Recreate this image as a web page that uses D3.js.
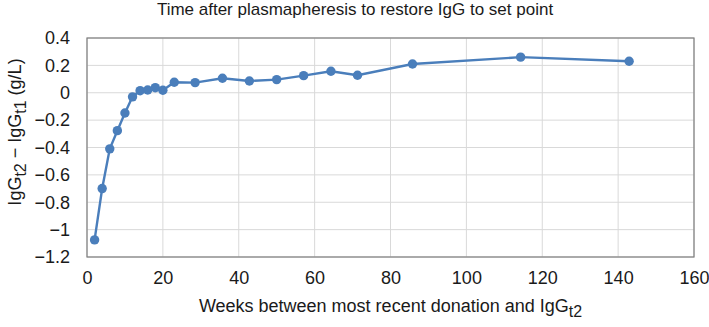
<!DOCTYPE html>
<html>
<head>
<meta charset="utf-8">
<script src="https://cdn.jsdelivr.net/npm/d3@7"></script>
<style>
  body { margin: 0; background: #fff; }
  text { font-family: "Liberation Sans", Arial, sans-serif; fill: #1a1a1a; }
</style>
</head>
<body>
<svg id="chart"></svg>
<script>
// Data
const weeks = [2, 4, 6, 8, 10, 12, 14, 16, 18, 20, 23, 28.5, 35.7, 42.8, 50, 57.1, 64.3, 71.3, 85.8, 114.3, 142.9];
const iggDiff = [-1.075, -0.70, -0.41, -0.277, -0.148, -0.03, 0.015, 0.02, 0.037, 0.018, 0.077, 0.074, 0.106, 0.086, 0.096, 0.125, 0.157, 0.128, 0.21, 0.26, 0.23];
const xTicks = [0, 20, 40, 60, 80, 100, 120, 140, 160];
const yTicks = [0.4, 0.2, 0, -0.2, -0.4, -0.6, -0.8, -1, -1.2];

const width = 709, height = 327;
const margin = {top: 38, right: 15, bottom: 70, left: 87};
const innerW = width - margin.left - margin.right;
const innerH = height - margin.top - margin.bottom;

const svg = d3.select('#chart')
    .attr('width', width)
    .attr('height', height);

const chart = svg.append('g')
    .attr('transform', `translate(${margin.left},${margin.top})`);

const xScale = d3.scaleLinear().domain([0, 160]).range([0, innerW]);
const yScale = d3.scaleLinear().domain([-1.2, 0.4]).range([innerH, 0]);

const fmt = d => d3.format('')(d).replace('-', '\u2212');

// Gridlines
chart.append('g')
    .selectAll('line')
    .data(xTicks)
  .join('line')
    .attr('x1', d => xScale(d)).attr('x2', d => xScale(d))
    .attr('y1', 0).attr('y2', innerH)
    .attr('stroke', '#d9d9d9').attr('stroke-width', 1);

chart.append('g')
    .selectAll('line')
    .data(yTicks)
  .join('line')
    .attr('x1', 0).attr('x2', innerW)
    .attr('y1', d => yScale(d)).attr('y2', d => yScale(d))
    .attr('stroke', '#d9d9d9').attr('stroke-width', 1);

// Plot area border
chart.append('rect')
    .attr('width', innerW)
    .attr('height', innerH)
    .attr('fill', 'none')
    .attr('stroke', '#7f7f7f')
    .attr('stroke-width', 1.2);

// Axes (labels only)
const xAxis = d3.axisBottom(xScale).tickValues(xTicks).tickSize(0).tickPadding(14).tickFormat(fmt);
const yAxis = d3.axisLeft(yScale).tickValues(yTicks).tickSize(0).tickPadding(17).tickFormat(fmt);

const xAxisG = chart.append('g')
    .attr('transform', `translate(0,${innerH})`)
    .call(xAxis);
const yAxisG = chart.append('g').call(yAxis);

[xAxisG, yAxisG].forEach(g => {
  g.select('.domain').remove();
  g.selectAll('text')
      .attr('font-size', 18)
      .attr('font-family', '"Liberation Sans", Arial, sans-serif')
      .attr('fill', '#1a1a1a');
});

// Line + markers
const points = weeks.map((w, i) => ({x: w, y: iggDiff[i]}));
const line = d3.line()
    .x(d => xScale(d.x))
    .y(d => yScale(d.y));

chart.append('path')
    .datum(points)
    .attr('fill', 'none')
    .attr('stroke', '#4a7ebb')
    .attr('stroke-width', 2.4)
    .attr('d', line);

chart.selectAll('.dot')
    .data(points)
  .join('circle')
    .attr('class', 'dot')
    .attr('cx', d => xScale(d.x))
    .attr('cy', d => yScale(d.y))
    .attr('r', 4.7)
    .attr('fill', '#4a7ebb');

// Title
svg.append('text')
    .attr('x', 355)
    .attr('y', 15)
    .attr('text-anchor', 'middle')
    .attr('font-size', 17)
    .text('Time after plasmapheresis to restore IgG to set point');

// X axis label
const xLabel = svg.append('text')
    .attr('x', margin.left + innerW / 2)
    .attr('y', 312)
    .attr('text-anchor', 'middle')
    .attr('font-size', 18);
xLabel.append('tspan').text('Weeks between most recent donation and IgG');
xLabel.append('tspan').attr('dy', 5).attr('font-size', 16).text('t2');

// Y axis label
const yLabel = svg.append('text')
    .attr('transform', `translate(21,132) rotate(-90)`)
    .attr('text-anchor', 'middle')
    .attr('font-size', 18);
yLabel.append('tspan').text('IgG');
yLabel.append('tspan').attr('dy', 5).attr('font-size', 16).text('t2');
yLabel.append('tspan').attr('dy', -5).text(' \u2212 IgG');
yLabel.append('tspan').attr('dy', 5).attr('font-size', 16).text('t1');
yLabel.append('tspan').attr('dy', -5).text(' (g/L)');
</script>
</body>
</html>
